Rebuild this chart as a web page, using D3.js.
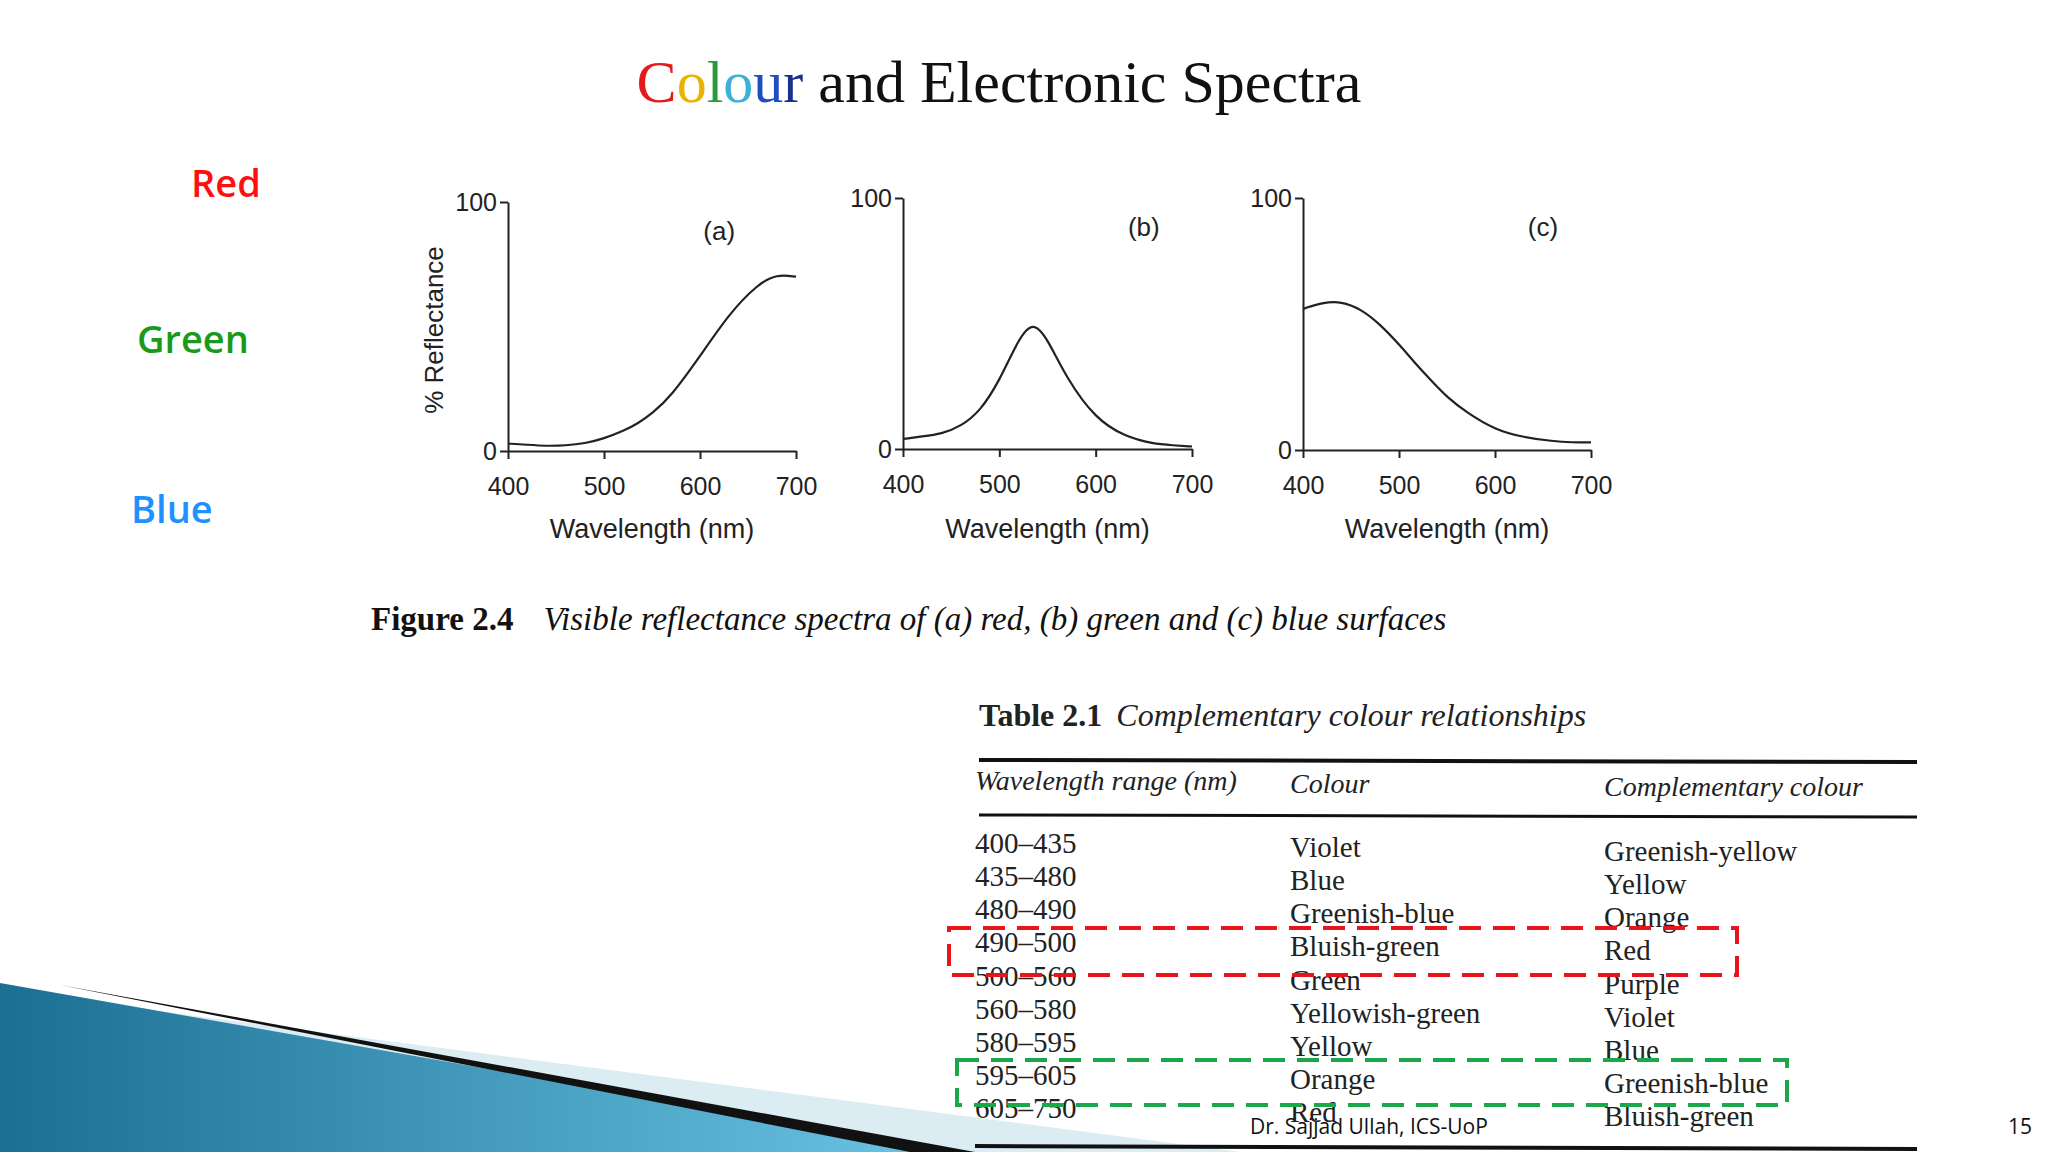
<!DOCTYPE html>
<html><head><meta charset="utf-8">
<script src="https://cdn.jsdelivr.net/npm/d3@7"></script>
<style>body{margin:0;background:#fff}</style>
</head><body>
<script>
// spectra (wavelength nm, % reflectance)
const wavelengths = [400, 420, 440, 460, 480, 500, 520, 535, 550, 570, 600, 630, 660, 680, 700];
const redSeries   = [3, 2.5, 2, 2.2, 3, 5, 8, 11, 15, 22, 38, 55, 67, 71, 70];
const greenSeries = [4, 5, 6, 9, 15, 27, 44, 51, 44, 28, 12, 5, 2, 1.5, 1];
const blueSeries  = [56, 58.5, 59, 56, 50, 42, 33, 27, 21, 15, 8, 5, 3.5, 3, 3];
const panelTags = ["(a)", "(b)", "(c)"];
const xTicks = [400, 500, 600, 700];
const yTicks = [0, 100];

// table 2.1
const rangeCol = ["400–435","435–480","480–490","490–500","500–560","560–580","580–595","595–605","605–750"];
const colourCol = ["Violet","Blue","Greenish-blue","Bluish-green","Green","Yellowish-green","Yellow","Orange","Red"];
const complCol = ["Greenish-yellow","Yellow","Orange","Red","Purple","Violet","Blue","Greenish-blue","Bluish-green"];

const W = 2048, H = 1152;
const svg = d3.select("body").append("svg").attr("width", W).attr("height", H);

// decorative wedge bottom-left
const grad = svg.append("defs").append("linearGradient").attr("id","g1")
  .attr("x1","0").attr("y1","0").attr("x2","1").attr("y2","0");
grad.append("stop").attr("offset","0").attr("stop-color","#1b6f92");
grad.append("stop").attr("offset","1").attr("stop-color","#6cc6e6");
svg.append("polygon").attr("points","150,1010 1240,1152 900,1152").attr("fill","#dcecf3");
svg.append("polygon").attr("points","0,983 0,1152 960,1152").attr("fill","url(#g1)");
svg.append("polygon").attr("points","60,985 975,1152 910,1152").attr("fill","#111");

// title
const title = svg.append("text").attr("x", 999).attr("y", 102).attr("text-anchor","middle")
  .attr("font-family","Liberation Serif, serif").attr("font-size", 60);
[["C","#e31b1b"],["o","#e8b400"],["l","#2a9a3a"],["o","#3bb0d8"],["u","#1f4fbf"],["r","#1a2f8f"],[" and Electronic Spectra","#111"]]
  .forEach(([t,c]) => title.append("tspan").attr("fill", c).text(t));

// side labels
[["Red","#ff1010",191,185],["Green","#1a9a1a",137,341],["Blue","#1e90ff",131,511]].forEach(([t,c,x,y]) =>
  svg.append("text").attr("x",x).attr("y",y+12).attr("font-family","Open Sans, sans-serif")
    .attr("font-weight","600").attr("font-size",38).attr("fill",c).text(t));

// panels
const panels = [
  {x0:508, x1:796, y0:451, y1:202, data:redSeries},
  {x0:903, x1:1192, y0:449, y1:198, data:greenSeries},
  {x0:1303, x1:1591, y0:450, y1:198, data:blueSeries}
];
panels.forEach((p, i) => {
  const x = d3.scaleLinear().domain([400,700]).range([p.x0, p.x1]);
  const y = d3.scaleLinear().domain([0,100]).range([p.y0, p.y1]);
  const g = svg.append("g").attr("font-family","Liberation Sans, Arial, sans-serif");
  const ax = g.append("g").attr("transform",`translate(0,${p.y0})`)
    .call(d3.axisBottom(x).tickValues(xTicks).tickSize(8).tickSizeOuter(0));
  ax.selectAll("text").attr("font-size",25).attr("dy","1.3em").attr("fill","#222");
  const ay = g.append("g").attr("transform",`translate(${p.x0},0)`)
    .call(d3.axisLeft(y).tickValues(yTicks).tickSize(8).tickSizeOuter(0));
  ay.selectAll("text").attr("font-size",25).attr("fill","#222");
  g.selectAll(".domain, line").attr("stroke","#222").attr("stroke-width",2);
  g.append("path").datum(p.data.map((v,k) => [wavelengths[k], v]))
    .attr("fill","none").attr("stroke","#222").attr("stroke-width",2.2)
    .attr("d", d3.line().x(d => x(d[0])).y(d => y(d[1])).curve(d3.curveBasis));
  g.append("text").attr("x", x(i === 0 ? 620 : 650)).attr("y", p.y1 + 38).attr("text-anchor","middle")
    .attr("font-size",26).attr("fill","#222").text(panelTags[i]);
  g.append("text").attr("x", (p.x0+p.x1)/2).attr("y", 538).attr("text-anchor","middle")
    .attr("font-size",27).attr("fill","#222").text("Wavelength (nm)");
});
svg.append("text").attr("transform","translate(443,330) rotate(-90)").attr("text-anchor","middle")
  .attr("font-family","Liberation Sans, Arial, sans-serif").attr("font-size",26).attr("fill","#222").text("% Reflectance");

// caption
const cap = svg.append("text").attr("x",371).attr("y",630).attr("font-family","Liberation Serif, serif")
  .attr("font-size",33).attr("fill","#111");
cap.append("tspan").attr("font-weight","bold").text("Figure 2.4");
cap.append("tspan").attr("dx",30).attr("font-style","italic").text("Visible reflectance spectra of (a) red, (b) green and (c) blue surfaces");

// table
const T = svg.append("g").attr("font-family","Liberation Serif, serif").attr("fill","#222");
const tt = T.append("text").attr("x",979).attr("y",726).attr("font-size",32);
tt.append("tspan").attr("font-weight","bold").text("Table 2.1");
tt.append("tspan").attr("dx",14).attr("font-style","italic").text("Complementary colour relationships");
T.append("line").attr("x1",979).attr("x2",1917).attr("y1",760).attr("y2",762).attr("stroke","#111").attr("stroke-width",4);
T.append("line").attr("x1",979).attr("x2",1917).attr("y1",815).attr("y2",817).attr("stroke","#111").attr("stroke-width",3);
T.append("line").attr("x1",975).attr("x2",1917).attr("y1",1146).attr("y2",1149).attr("stroke","#111").attr("stroke-width",4);
const colX = [975, 1290, 1604];
["Wavelength range (nm)","Colour","Complementary colour"].forEach((h,k) =>
  T.append("text").attr("x",colX[k]).attr("y",790 + k*3).attr("font-size",28).attr("font-style","italic").text(h));
const rowY = d3.scaleLinear().domain([0,8]).range([853, 1118]);
[rangeCol, colourCol, complCol].forEach((col,k) =>
  T.selectAll(null).data(col).join("text").attr("x",colX[k]).attr("y",(d,r) => rowY(r) + k*4)
    .attr("font-size",29).text(d => d));

// highlight boxes
svg.append("rect").attr("x",949).attr("y",928).attr("width",788).attr("height",47)
  .attr("fill","none").attr("stroke","#e8141c").attr("stroke-width",4).attr("stroke-dasharray","22,12");
svg.append("rect").attr("x",957).attr("y",1060).attr("width",830).attr("height",45)
  .attr("fill","none").attr("stroke","#1aa84a").attr("stroke-width",4).attr("stroke-dasharray","22,12");

// footer
svg.append("text").attr("x",1250).attr("y",1134).attr("font-family","Open Sans, sans-serif").attr("font-size",21).attr("fill","#111").text("Dr. Sajjad Ullah, ICS-UoP");
svg.append("text").attr("x",2008).attr("y",1134).attr("font-family","Open Sans, sans-serif").attr("font-size",21).attr("fill","#111").text("15");
</script>
</body></html>
